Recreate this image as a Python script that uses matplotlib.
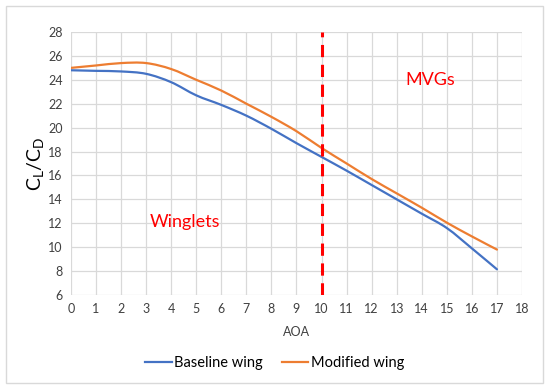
import numpy as np
import matplotlib.pyplot as plt
from matplotlib.patches import Rectangle, PathPatch
from matplotlib.path import Path
from matplotlib.lines import Line2D

plt.rcParams['font.family'] = ['Lato', 'DejaVu Sans']

# dane
aoa = [0, 1, 2, 3, 4, 5, 6, 7, 8, 9, 10, 11, 12, 13, 14, 15, 16, 17]
baseline = [24.8, 24.75, 24.7, 24.5, 23.8, 22.7, 21.9, 21.0, 19.9, 18.7, 17.55,
            16.4, 15.2, 14.0, 12.8, 11.6, 9.9, 8.15]
modified = [25.0, 25.2, 25.4, 25.4, 24.9, 24.0, 23.1, 22.0, 20.9, 19.7, 18.3,
            17.0, 15.7, 14.5, 13.3, 12.05, 10.9, 9.8]
xticks = list(range(0, 19))
yticks = list(range(6, 29, 2))


def gladka_sciezka(x, y):
    # wygladzona linia jak w Excelu (krzywe Beziera przez punkty)
    x = np.asarray(x, float)
    y = np.asarray(y, float)
    n = len(x)
    verts = [(x[0], y[0])]
    codes = [Path.MOVETO]
    for i in range(n - 1):
        x0, y0 = (x[i - 1], y[i - 1]) if i > 0 else (x[i], y[i])
        x3, y3 = (x[i + 2], y[i + 2]) if i + 2 < n else (x[i + 1], y[i + 1])
        c1 = (x[i] + (x[i + 1] - x0) / 6, y[i] + (y[i + 1] - y0) / 6)
        c2 = (x[i + 1] - (x3 - x[i]) / 6, y[i + 1] - (y3 - y[i]) / 6)
        verts += [c1, c2, (x[i + 1], y[i + 1])]
        codes += [Path.CURVE4] * 3
    return Path(verts, codes)


fig = plt.figure(figsize=(5.5, 3.9), dpi=100)
fig.patches.append(Rectangle((6 / 550, 7 / 390), 537 / 550, 377 / 390, transform=fig.transFigure,
                             fill=False, edgecolor='#d9d9d9', linewidth=1))
ax = fig.add_axes([71 / 550, 1 - 295 / 390, 451 / 550, 263 / 390])

for dane, kolor in [(baseline, '#4472c4'), (modified, '#ed7d31')]:
    ax.add_patch(PathPatch(gladka_sciezka(aoa, dane), facecolor='none', edgecolor=kolor,
                           linewidth=1.6, zorder=3, capstyle='round'))
ax.plot([10, 10], [6, 28], color='red', linestyle=(0, (4, 2.5)), linewidth=2.2, zorder=4)

ax.text(4.55, 12.1, 'Winglets', color='red', fontsize=13, ha='center', va='center')
ax.text(14.35, 24.0, 'MVGs', color='red', fontsize=13, ha='center', va='center')

ax.set_xlim(0, 18)
ax.set_ylim(6, 28)
ax.set_xticks(xticks)
ax.set_yticks(yticks)
ax.grid(True, color='#d9d9d9', linewidth=0.9)
ax.set_axisbelow(True)
for s in ax.spines.values():
    s.set_visible(False)
ax.tick_params(length=0, labelsize=9, labelcolor='#404040', pad=6)
ax.set_xlabel('AOA', fontsize=9, color='#404040', labelpad=8)
ax.set_ylabel('C$_\\mathregular{L}$/C$_\\mathregular{D}$', fontsize=14, color='black', labelpad=1)

uchwyty = [Line2D([], [], color='#4472c4', linewidth=1.6),
           Line2D([], [], color='#ed7d31', linewidth=1.6)]
fig.legend(uchwyty, ['Baseline wing', 'Modified wing'], loc='center',
           bbox_to_anchor=(0.5, 1 - 363 / 390), ncol=2, frameon=False,
           fontsize=10.5, handlelength=1.8, columnspacing=1.3, handletextpad=0.2)

fig.savefig('out.png', dpi=100)
